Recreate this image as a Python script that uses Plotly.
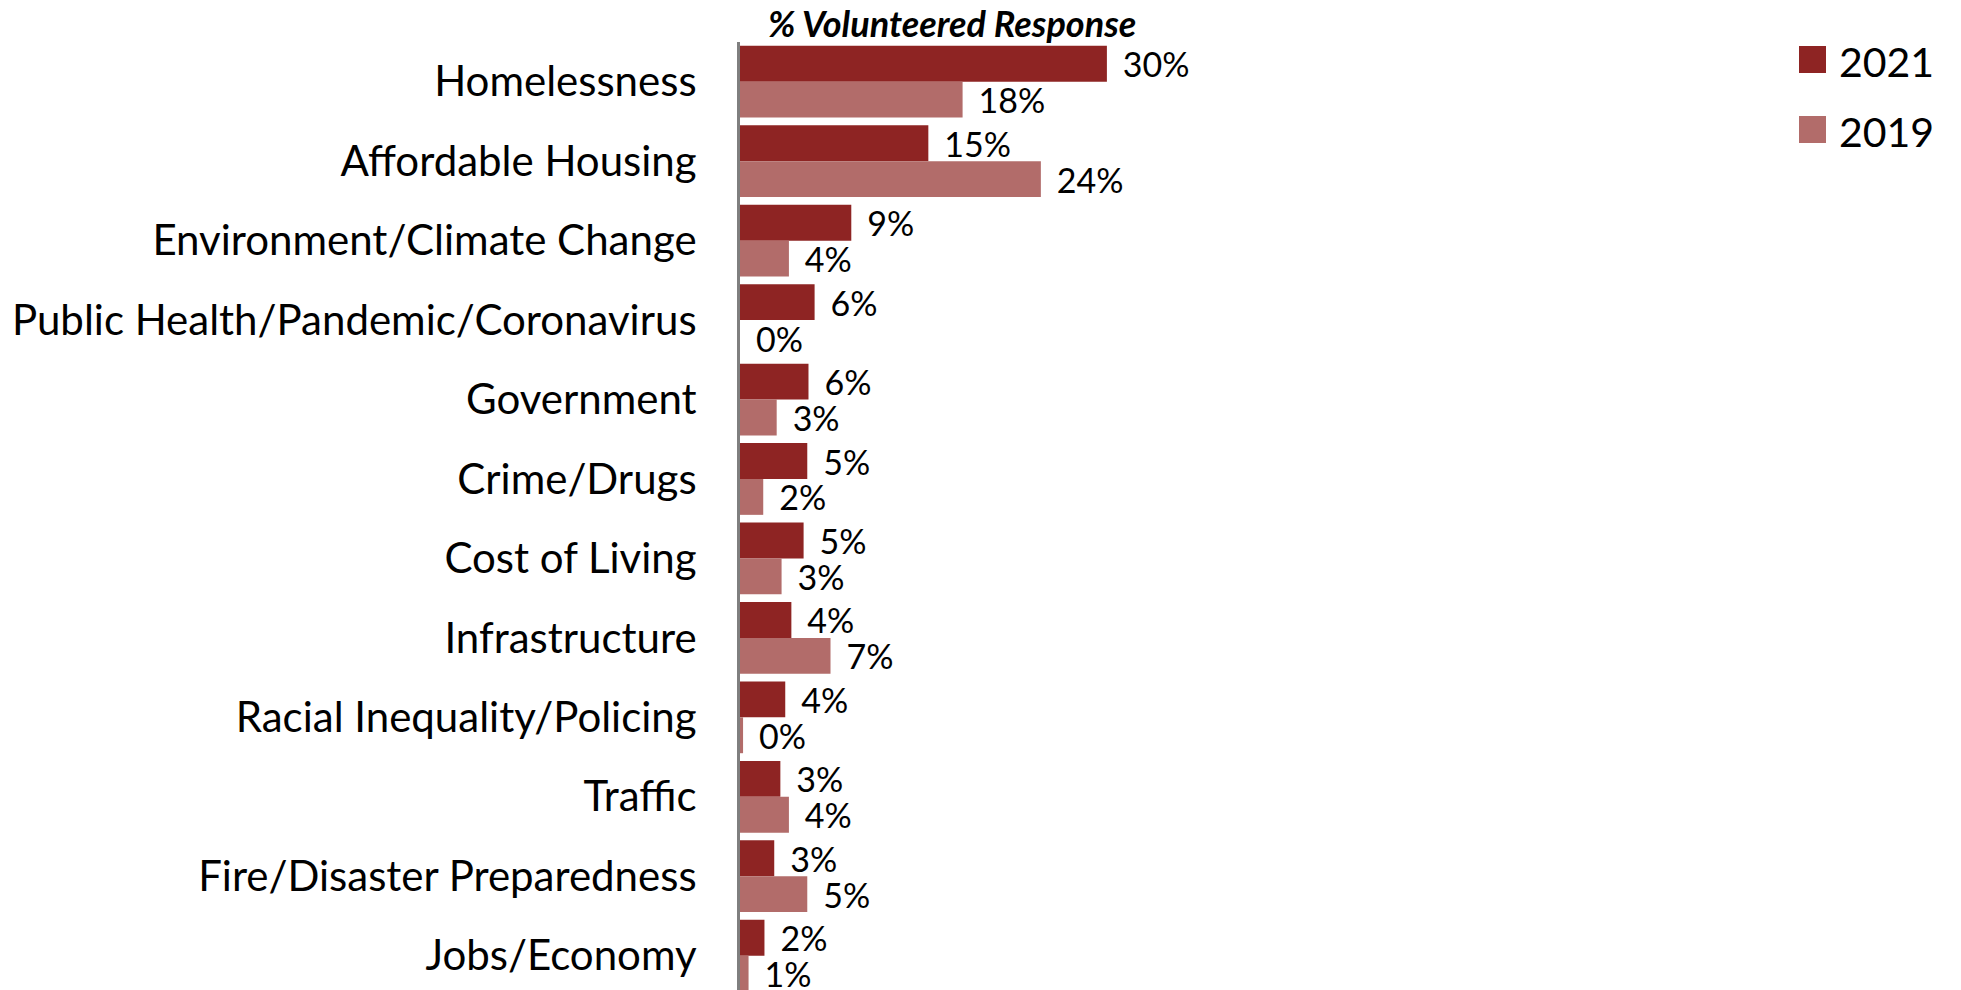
import plotly.graph_objects as go

categories = [
    "Homelessness", "Affordable Housing", "Environment/Climate Change",
    "Public Health/Pandemic/Coronavirus", "Government", "Crime/Drugs",
    "Cost of Living", "Infrastructure", "Racial Inequality/Policing",
    "Traffic", "Fire/Disaster Preparedness", "Jobs/Economy",
]
values_2021 = [30.0, 15.4, 9.1, 6.1, 5.6, 5.5, 5.2, 4.2, 3.7, 3.3, 2.8, 2.0]
values_2019 = [18.2, 24.6, 4.0, 0.0, 3.0, 1.9, 3.4, 7.4, 0.25, 4.0, 5.5, 0.7]
labels_2021 = [30, 15, 9, 6, 6, 5, 5, 4, 4, 3, 3, 2]
labels_2019 = [18, 24, 4, 0, 3, 2, 3, 7, 0, 4, 5, 1]
series_names = ["2021", "2019"]
title_text = "% Volunteered Response"

C2021 = "#8E2423"
C2019 = "#B26C6A"
FONT = "Lato"

# page body has an 8px margin; positions below are in figure pixels
OFF = 8
W, H = 1961, 990
L, T, B = 740 - OFF, 42 - OFF, 0
R = 261
PW = W - L - R
PH = H - T - B
PX_PER_UNIT = 12.23
BAND = 79.45


def px_x(px):
    return (px - OFF - L) / PW


def px_y(py):
    return (H - B - (py - OFF)) / PH


fig = go.Figure()
for name, vals, labs, col in [
    (series_names[0], values_2021, labels_2021, C2021),
    (series_names[1], values_2019, labels_2019, C2019),
]:
    fig.add_trace(go.Bar(
        y=categories, x=vals, name=name, orientation="h",
        marker=dict(color=col, line=dict(width=0)),
        text=["\u00a0\u2009" + f"{v}%" for v in labs],
        textposition="outside", constraintext="none", cliponaxis=False,
        textfont=dict(family=FONT, size=34, color="black"),
        showlegend=False,
    ))

fig.update_layout(
    width=W, height=H,
    margin=dict(l=L, r=R, t=T, b=B, pad=0),
    paper_bgcolor="white", plot_bgcolor="white",
    barmode="group", bargap=0.097, bargroupgap=0,
    font=dict(family=FONT, color="black"),
    xaxis=dict(range=[0, PW / PX_PER_UNIT], visible=False, fixedrange=True),
    yaxis=dict(
        range=[-0.5 + PH / BAND, -0.5],
        showline=True, linecolor="#7F7F7F", linewidth=3,
        ticks="outside", ticklen=32, tickcolor="rgba(0,0,0,0)",
        tickfont=dict(family=FONT, size=42, color="black"),
        showgrid=False, zeroline=False,
    ),
)

# title
fig.add_annotation(
    text="<b><i>" + title_text + "</i></b>", xref="paper", yref="paper",
    x=px_x(952), y=px_y(23), xanchor="center", yanchor="middle",
    showarrow=False, font=dict(family=FONT, size=36, color="black"),
)

# manual legend
for i, (name, col) in enumerate(zip(series_names, [C2021, C2019])):
    top = 46 + i * 70
    fig.add_shape(
        type="rect", xref="paper", yref="paper",
        x0=px_x(1799), x1=px_x(1826), y0=px_y(top + 27), y1=px_y(top),
        fillcolor=col, line=dict(width=0),
    )
    fig.add_annotation(
        text=name, xref="paper", yref="paper",
        x=px_x(1837), y=px_y(top + 15), xanchor="left", yanchor="middle",
        showarrow=False, font=dict(family=FONT, size=41, color="black"),
    )

fig.write_html("out.html")
